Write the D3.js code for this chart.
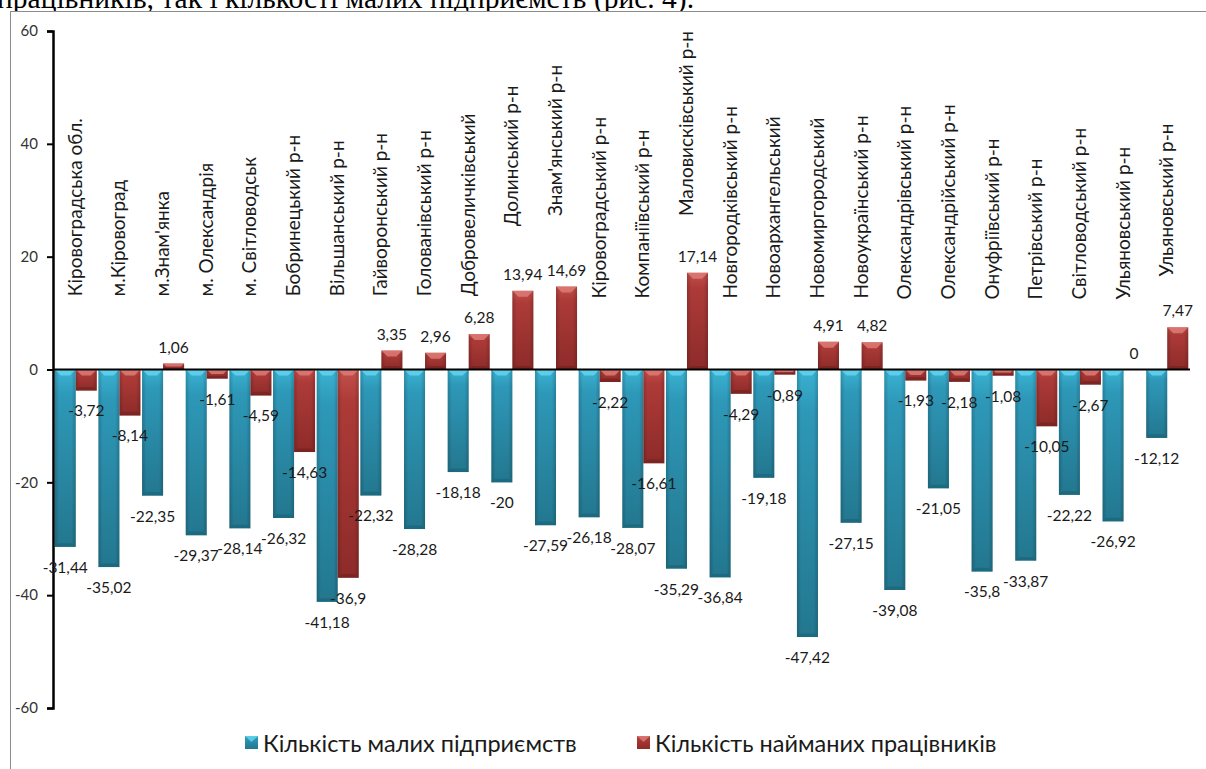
<!DOCTYPE html>
<html lang="uk">
<head>
<meta charset="utf-8">
<script src="https://cdn.jsdelivr.net/npm/d3@7"></script>
<style>
  html, body { margin: 0; padding: 0; background: #fff; overflow: hidden; }
  svg { display: block; }
</style>
</head>
<body>
<svg id="chart" width="1206" height="769"></svg>
<script>
// Territorial units of Kirovohrad oblast
const categories = [
  "Кіровоградська обл.", "м.Кіровоград", "м.Знам'янка", "м. Олександрія", "м. Світловодськ",
  "Бобринецький р-н", "Вільшанський р-н", "Гайворонський р-н", "Голованівський р-н",
  "Добровеличківський", "Долинський р-н", "Знам'янський р-н", "Кіровоградський р-н",
  "Компаніївський р-н", "Маловисківський р-н", "Новгородківський р-н", "Новоархангельський",
  "Новомиргородський", "Новоукраїнський р-н", "Олександрівський р-н", "Олександрійський р-н",
  "Онуфріївський р-н", "Петрівський р-н", "Світловодський р-н", "Ульяновський р-н", "Ульяновський р-н"
];

// Change, %: number of small enterprises
const smallFirms = [
  -31.44, -35.02, -22.35, -29.37, -28.14, -26.32, -41.18, -22.32, -28.28, -18.18, -20, -27.59, -26.18,
  -28.07, -35.29, -36.84, -19.18, -47.42, -27.15, -39.08, -21.05, -35.8, -33.87, -22.22, -26.92, -12.12
];

// Change, %: number of hired employees
const hiredWorkers = [
  -3.72, -8.14, 1.06, -1.61, -4.59, -14.63, -36.9, 3.35, 2.96, 6.28, 13.94, 14.69, -2.22,
  -16.61, 17.14, -4.29, -0.89, 4.91, 4.82, -1.93, -2.18, -1.08, -10.05, -2.67, 0, 7.47
];

const yTicks = [-60, -40, -20, 0, 20, 40, 60];
const seriesNames = ["Кількість малих підприємств", "Кількість найманих працівників"];

// Value level at which each rotated category name starts
const nameBase = [
  13.0, 13.0, 13.0, 13.0, 13.0, 13.0, 13.0, 13.0, 13.0, 13.0, 25.4, 27.2, 12.6,
  12.6, 27.2, 12.6, 12.6, 12.6, 12.6, 12.4, 12.4, 12.4, 12.4, 12.4, 12.4, 16.5
];

const svg = d3.select("#chart");
const W = 1206, H = 769;

// Running text of the page above the figure
svg.append("text")
  .attr("x", -3).attr("y", 8)
  .attr("font-family", "'Liberation Serif', 'Times New Roman', serif")
  .attr("font-size", 29.5)
  .attr("fill", "#000")
  .text("працівників, так і кількості малих підприємств (рис. 4).");

// Chart frame
svg.append("rect")
  .attr("x", 10.5).attr("y", 11.5)
  .attr("width", W + 10).attr("height", H + 10)
  .attr("fill", "#fff").attr("stroke", "#8c8c8c").attr("stroke-width", 1);

const x = d3.scaleBand().domain(d3.range(categories.length)).range([53, 1190])
  .paddingInner(0.037).paddingOuter(0.04);
const y = d3.scaleLinear().domain([-60, 60]).range([708, 31]);

const defs = svg.append("defs");
const palettes = {
  blue: { light: "#63d3ee", top: "#3ab2d2", body: "#2e98b8", bottom: "#23778f", dark: "#1b6579" },
  red:  { light: "#dd7a76", top: "#c2504c", body: "#ad3b38", bottom: "#8d2b29", dark: "#742220" }
};
Object.entries(palettes).forEach(([k, p]) => {
  const g = defs.append("linearGradient").attr("id", "grad-" + k)
    .attr("x1", 0).attr("y1", 0).attr("x2", 0).attr("y2", 1);
  g.append("stop").attr("offset", 0).attr("stop-color", p.top);
  g.append("stop").attr("offset", 0.15).attr("stop-color", p.body);
  g.append("stop").attr("offset", 1).attr("stop-color", p.bottom);
  const h = defs.append("linearGradient").attr("id", "side-" + k)
    .attr("x1", 0).attr("y1", 0).attr("x2", 1).attr("y2", 0);
  h.append("stop").attr("offset", 0).attr("stop-color", "#000").attr("stop-opacity", 0.18);
  h.append("stop").attr("offset", 0.2).attr("stop-color", "#000").attr("stop-opacity", 0);
  h.append("stop").attr("offset", 0.8).attr("stop-color", "#000").attr("stop-opacity", 0);
  h.append("stop").attr("offset", 1).attr("stop-color", "#000").attr("stop-opacity", 0.18);
});

const series = [
  { key: "blue", values: smallFirms, offset: 0 },
  { key: "red", values: hiredWorkers, offset: 1 }
];
const bw = x.bandwidth() / 2;

// Bars with a soft bevel: light cap on the upper edge, darker cap on the lower edge
series.forEach(s => {
  const p = palettes[s.key];
  const g = svg.append("g");
  s.values.forEach((v, i) => {
    if (v === 0) return;
    const x0 = x(i) + s.offset * bw;
    const top = Math.min(y(v), y(0));
    const h = Math.abs(y(v) - y(0));
    const c = Math.min(6, h / 2);
    g.append("rect").attr("x", x0).attr("y", top).attr("width", bw).attr("height", h)
      .attr("fill", `url(#grad-${s.key})`);
    g.append("rect").attr("x", x0).attr("y", top).attr("width", bw).attr("height", h)
      .attr("fill", `url(#side-${s.key})`);
    g.append("path")
      .attr("d", `M${x0},${top}L${x0 + bw},${top}L${x0 + bw - c},${top + c}L${x0 + c},${top + c}Z`)
      .attr("fill", p.light).attr("opacity", 0.85);
    g.append("path")
      .attr("d", `M${x0},${top + h}L${x0 + bw},${top + h}L${x0 + bw - c * 0.6},${top + h - c * 0.6}L${x0 + c * 0.6},${top + h - c * 0.6}Z`)
      .attr("fill", p.dark).attr("opacity", 0.7);
  });
});

// Zero line
svg.append("line")
  .attr("x1", 53).attr("x2", 1190).attr("y1", y(0)).attr("y2", y(0))
  .attr("stroke", "#000").attr("stroke-width", 2.2);

// Vertical axis
const yAxis = d3.axisLeft(y).tickValues(yTicks).tickSize(6).tickPadding(9).tickFormat(d => String(d));
const ya = svg.append("g").attr("transform", "translate(53,0)").call(yAxis);
ya.select(".domain").attr("stroke", "#000").attr("stroke-width", 2.5);
ya.selectAll(".tick line").attr("stroke", "#000").attr("stroke-width", 2);
ya.selectAll(".tick text")
  .attr("font-family", "Lato, 'Open Sans', sans-serif").attr("font-size", 15).attr("fill", "#333");

// Value labels
const fmt = v => String(v).replace(".", ",");
series.forEach(s => {
  svg.append("g").selectAll("text").data(s.values).join("text")
    .attr("x", (v, i) => x(i) + s.offset * bw + bw / 2)
    .attr("y", v => v >= 0 ? y(v) - 17 : y(v) + 20)
    .attr("text-anchor", "middle").attr("dominant-baseline", "central")
    .attr("font-family", "Lato, 'Open Sans', sans-serif").attr("font-size", 15.5).attr("fill", "#1a1a1a")
    .text(fmt);
});

// Rotated category names
svg.append("g").selectAll("text").data(categories).join("text")
  .attr("transform", (d, i) => `translate(${x(i) + x.bandwidth() / 2 + 6},${y(nameBase[i])}) rotate(-90)`)
  .attr("text-anchor", "start")
  .attr("font-family", "Lato, 'Open Sans', sans-serif").attr("font-size", 19).attr("fill", "#1a1a1a")
  .text(d => d);

// Legend
const legend = svg.append("g");
const legendX = [245, 637];
seriesNames.forEach((name, i) => {
  const p = palettes[series[i].key];
  legend.append("rect").attr("x", legendX[i]).attr("y", 736).attr("width", 13).attr("height", 13)
    .attr("fill", `url(#grad-${series[i].key})`);
  legend.append("path")
    .attr("d", `M${legendX[i]},736L${legendX[i] + 13},736L${legendX[i] + 6.5},742Z`)
    .attr("fill", p.light).attr("opacity", 0.85);
  legend.append("text").attr("x", legendX[i] + 18).attr("y", 743)
    .attr("dominant-baseline", "central")
    .attr("font-family", "Lato, 'Open Sans', sans-serif").attr("font-size", 23.5).attr("fill", "#1a1a1a")
    .text(name);
});
</script>
</body>
</html>
